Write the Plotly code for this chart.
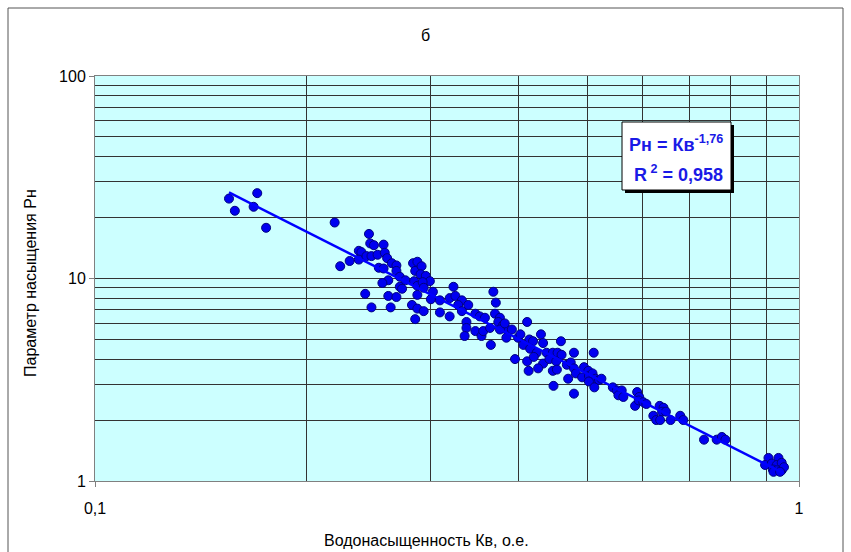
import plotly.graph_objects as go

KV = [0.155,0.170,0.158,0.168,0.175,0.219,0.245,0.223,0.230,0.237,0.239,0.237,0.246,0.249,0.257,0.243,0.247,0.252,0.258,0.260,
      0.253,0.257,0.264,0.268,0.268,0.271,0.261,0.256,0.276,0.283,0.287,0.285,0.284,0.271,0.273,0.242,0.261,0.268,0.247,0.263,
      0.282,0.287,0.285,0.287,0.287,
      0.291,0.290,0.295,0.299,0.292,0.293,0.302,0.300,0.293,0.309,0.323,0.319,0.325,0.332,0.339,0.328,0.332,0.309,0.319,0.347,
      0.352,0.358,0.337,0.337,0.347,0.335,0.354,0.356,0.368,0.371,0.370,0.376,0.374,0.380,0.364,0.384,0.391,0.384,0.365,0.395,
      0.399,0.376,
      0.382,0.411,0.402,0.414,0.430,0.419,0.433,0.406,0.415,0.459,0.424,0.438,0.447,0.454,0.460,0.479,0.511,0.411,0.420,0.433,
      0.442,0.452,0.468,0.474,0.413,0.426,0.447,0.453,0.479,0.495,0.502,0.482,0.492,0.503,0.509,0.470,0.514,0.503,0.520,0.524,
      0.512,0.448,0.479,0.544,0.551,0.560,0.554,0.563,0.589,0.593,0.585,
      0.592,0.601,0.607,0.634,0.642,0.639,0.647,0.621,0.627,0.635,0.657,0.678,0.685,0.733,0.764,0.777,0.786,0.905,0.935,0.895,
      0.915,0.930,0.945,0.918,0.930,0.945,0.952,0.920,0.940]
PN = [24.8,26.4,21.6,22.6,17.8,18.9,16.6,11.5,12.2,13.7,13.5,12.4,14.9,14.6,14.7,12.9,12.9,13.1,13.4,12.6,
      11.3,11.2,11.9,11.6,10.9,10.2,9.8,9.5,9.8,11.9,12.1,10.9,9.7,9.1,8.9,8.4,8.2,8.1,7.2,7.2,
      7.4,7.1,6.3,8.3,9.2,
      11.5,10.5,10.3,9.7,9.6,9.0,8.6,7.9,6.9,7.8,9.1,8.0,8.2,7.8,7.4,7.4,6.9,6.8,6.5,6.7,
      6.5,6.4,6.1,5.7,5.5,5.2,5.2,5.5,8.6,7.6,6.7,6.4,6.1,5.9,5.7,5.6,5.6,5.1,4.7,4.0,
      5.1,5.6,
      6.0,6.1,5.3,5.0,5.3,4.9,4.8,4.7,4.5,4.9,4.3,4.3,4.3,4.3,4.2,4.3,4.3,3.9,4.1,3.8,
      4.0,3.9,3.75,3.85,3.5,3.6,3.5,3.55,3.6,3.65,3.5,3.4,3.25,3.3,3.4,3.2,3.2,3.1,3.15,3.2,
      2.9,2.95,2.7,2.9,2.8,2.8,2.65,2.6,2.75,2.6,2.35,
      2.5,2.45,2.4,2.35,2.3,2.2,2.2,2.1,2.0,2.0,2.0,2.1,2.0,1.6,1.6,1.65,1.6,1.3,1.3,1.2,
      1.22,1.2,1.23,1.14,1.13,1.13,1.17,1.11,1.11]

TREND_COEF = 1.0
TREND_EXP = -1.76
TITLE = "б"
X_TITLE = "Водонасыщенность Кв, о.е."
Y_TITLE = "Параметр насыщения Рн"
EQ_TEXT = "<b>Рн = Кв<sup>-1,76</sup></b>"
R2_TEXT = "<b>R<sup> 2</sup> = 0,958</b>"
X_TICKS = [0.1, 1]
X_TICKTEXT = ["0,1", "1"]
Y_TICKS = [1, 10, 100]
Y_TICKTEXT = ["1", "10", "100"]
X_MINOR = [0.2, 0.3, 0.4, 0.5, 0.6, 0.7, 0.8, 0.9]
Y_MINOR = [2, 3, 4, 5, 6, 7, 8, 9, 20, 30, 40, 50, 60, 70, 80, 90]

FONT = "Liberation Sans, Arial, sans-serif"
W, H = 851, 552
L, R, T, B = 95, 52, 76, 71
PW, PH = W - L - R, H - T - B

def px(xp):
    return (xp - L) / PW

def py(yp):
    return (H - B - yp) / PH

trend_x = [min(KV), max(KV)]
trend_y = [TREND_COEF * v ** TREND_EXP for v in trend_x]

fig = go.Figure()
fig.add_trace(go.Scatter(x=KV, y=PN, mode="markers",
                         marker=dict(size=9, color="#0000f0", line=dict(color="#000080", width=1)),
                         showlegend=False))
fig.add_trace(go.Scatter(x=trend_x, y=trend_y, mode="lines",
                         line=dict(color="#0000ff", width=2.5), showlegend=False))

axis_common = dict(showline=True, linecolor="#808080", linewidth=1, mirror=True,
                   ticks="outside", ticklen=5, tickcolor="#808080",
                   tickfont=dict(family=FONT, size=16, color="black"),
                   zeroline=False)

fig.update_xaxes(type="log", range=[-1, 0], tickvals=X_TICKS, ticktext=X_TICKTEXT,
                 showgrid=False, ticklabelstandoff=8,
                 minor=dict(tickvals=X_MINOR, showgrid=True, gridcolor="#333333", gridwidth=1, ticks=""),
                 **axis_common)
fig.update_yaxes(type="log", range=[0, 2], tickvals=Y_TICKS, ticktext=Y_TICKTEXT,
                 showgrid=True, gridcolor="#333333", gridwidth=1,
                 minor=dict(tickvals=Y_MINOR, showgrid=True, gridcolor="#333333", gridwidth=1, ticks=""),
                 **axis_common)

shapes = [
    dict(type="rect", xref="paper", yref="paper", x0=px(8), x1=px(843), y0=py(600), y1=py(8),
         line=dict(color="#555555", width=1), fillcolor="rgba(0,0,0,0)", layer="below"),
    dict(type="rect", xref="paper", yref="paper", x0=px(625), x1=px(734), y0=py(193), y1=py(125),
         line=dict(color="black", width=0), fillcolor="black"),
    dict(type="rect", xref="paper", yref="paper", x0=px(622), x1=px(731), y0=py(190), y1=py(122),
         line=dict(color="black", width=1), fillcolor="white"),
]

def ann(text, x, y, size, color="black", angle=0):
    return dict(text=text, x=px(x), y=py(y), xref="paper", yref="paper", showarrow=False,
                xanchor="center", yanchor="middle", textangle=angle,
                font=dict(family=FONT, size=size, color=color))

annotations = [
    ann(TITLE, 425, 35, 16),
    ann(X_TITLE, 426, 540, 16),
    ann(Y_TITLE, 30, 283, 16, angle=-90),
    ann(EQ_TEXT, 676, 143, 18, "#1a1ae6"),
    ann(R2_TEXT, 678, 173, 18, "#1a1ae6"),
]

fig.update_layout(width=W, height=H, autosize=False,
                  margin=dict(l=L, r=R, t=T, b=B, pad=0),
                  paper_bgcolor="white", plot_bgcolor="#ccffff",
                  shapes=shapes, annotations=annotations,
                  font=dict(family=FONT))

fig.write_html("out.html")
